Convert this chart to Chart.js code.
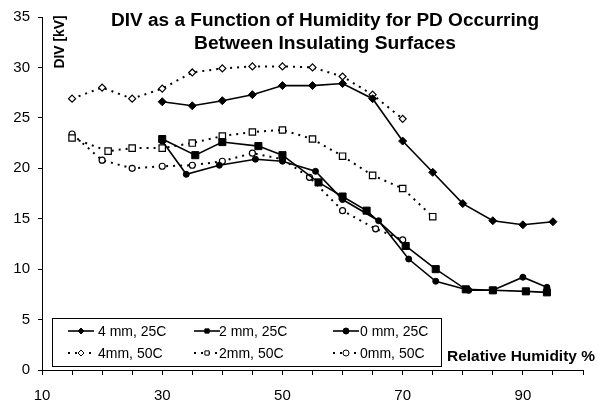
<!DOCTYPE html>
<html>
<head>
<meta charset="utf-8">
<script src="https://cdn.jsdelivr.net/npm/chart.js@4.4.1/dist/chart.umd.min.js"></script>
<style>
  html, body { margin: 0; padding: 0; background: #fff; }
  #wrap { width: 607px; height: 407px; }
</style>
</head>
<body>
<div id="wrap"><canvas id="divChart" width="607" height="407"></canvas></div>
<script>
const titleLines = ["DIV as a Function of Humidity for PD Occurring", "Between Insulating Surfaces"];
const yTitle = "DIV [kV]";
const xTitle = "Relative Humidity %";
const seriesLabels = ["4 mm, 25C", "2 mm, 25C", "0 mm, 25C", "4mm, 50C", "2mm, 50C", "0mm, 50C"];

// x tick labels shown every 20 (ticks every 5)
const xLabelTicks = [10, 30, 50, 70, 90];

const rh4mm25 = [30, 35, 40, 45, 50, 55, 60, 65, 70, 75, 80, 85, 90, 95];
const div4mm25 = [26.6, 26.2, 26.7, 27.3, 28.2, 28.2, 28.4, 26.9, 22.7, 19.6, 16.5, 14.8, 14.4, 14.7];

const rh2mm25 = [30, 35.5, 40, 46, 50, 56, 60, 64, 70.5, 75.5, 80.5, 85, 90.5, 94];
const div2mm25 = [22.9, 21.3, 22.6, 22.2, 21.3, 18.6, 17.2, 15.8, 12.3, 10.0, 8.0, 7.9, 7.8, 7.7];

const rh0mm25 = [30, 34, 39.5, 45.5, 50, 55.5, 60, 66, 71, 75.5, 81, 85, 90, 94];
const div0mm25 = [22.7, 19.4, 20.3, 20.9, 20.7, 19.7, 16.9, 14.8, 11.0, 8.8, 7.9, 7.9, 9.2, 8.2];

const rh4mm50 = [15, 20, 25, 30, 35, 40, 45, 50, 55, 60, 65, 70];
const div4mm50 = [26.9, 28.0, 26.9, 27.9, 29.5, 29.9, 30.1, 30.1, 30.0, 29.1, 27.3, 24.9];

const rh2mm50 = [15, 21, 25, 30, 35, 40, 45, 50, 55, 60, 65, 70, 75];
const div2mm50 = [23.0, 21.7, 22.0, 22.0, 22.5, 23.2, 23.6, 23.8, 22.9, 21.2, 19.3, 18.0, 15.2];

const rh0mm50 = [15, 20, 25, 30, 35, 40, 45, 50, 54.5, 60, 65.5, 70];
const div0mm50 = [23.4, 20.8, 20.0, 20.2, 20.3, 20.7, 21.5, 20.9, 19.1, 15.8, 14.0, 12.9];

const FONT = "'Liberation Sans', Arial, sans-serif";

function createDataset(label, xs, ys, options) {
  return {
    label: label,
    data: xs.map((x, i) => ({ x: x, y: ys[i] })),
    showLine: true,
    borderColor: "#000",
    pointBorderColor: "#000",
    ...options,
  };
}

const solid = { borderWidth: 1.6, pointBackgroundColor: "#000", pointBorderWidth: 1 };
const dotted = { borderWidth: 2, borderDash: [2, 5], pointBackgroundColor: "#fff", pointBorderWidth: 1.2 };

const datasets = [
  createDataset(seriesLabels[0], rh4mm25, div4mm25, { ...solid, pointStyle: "rectRot", pointRadius: 4 }),
  createDataset(seriesLabels[1], rh2mm25, div2mm25, { ...solid, pointStyle: "rect", pointRadius: 5 }),
  createDataset(seriesLabels[2], rh0mm25, div0mm25, { ...solid, pointStyle: "circle", pointRadius: 3 }),
  createDataset(seriesLabels[3], rh4mm50, div4mm50, { ...dotted, pointStyle: "rectRot", pointRadius: 3.5 }),
  createDataset(seriesLabels[4], rh2mm50, div2mm50, { ...dotted, pointStyle: "rect", pointRadius: 4.5 }),
  createDataset(seriesLabels[5], rh0mm50, div0mm50, { ...dotted, pointStyle: "circle", pointRadius: 3 }),
];

// draws text with a horizontal stretch so it covers the same width as the scan
function stretchText(ctx, text, x, y, font, width, rotate) {
  ctx.save();
  ctx.font = font;
  ctx.translate(x, y);
  if (rotate) ctx.rotate(-Math.PI / 2);
  let sx = width / ctx.measureText(text).width;
  ctx.scale(sx, 1);
  ctx.textAlign = "center";
  ctx.textBaseline = "middle";
  ctx.fillStyle = "#000";
  ctx.fillText(text, 0, 0);
  ctx.restore();
}

const overlayText = {
  id: "overlayText",
  afterDraw: (chart) => {
    let ctx = chart.ctx;
    stretchText(ctx, titleLines[0], 325, 21, "bold 18px " + FONT, 428);
    stretchText(ctx, titleLines[1], 325, 44, "bold 18px " + FONT, 262);
    stretchText(ctx, yTitle, 60, 42, "bold 14px " + FONT, 53, true);
    stretchText(ctx, xTitle, 521, 357, "bold 15px " + FONT, 148);
  },
};

const boxLegend = {
  id: "boxLegend",
  afterDraw: (chart) => {
    let ctx = chart.ctx;
    let lineX = [68, 194, 333];
    let textX = [98, 219, 360];
    let rowY = [331, 353];
    ctx.save();
    ctx.fillStyle = "#fff";
    ctx.fillRect(52, 318, 389, 48);
    ctx.strokeStyle = "#000";
    ctx.lineWidth = 1;
    ctx.strokeRect(52.5, 318.5, 389, 48);
    chart.data.datasets.forEach((ds, i) => {
      let col = i % 3;
      let y = rowY[Math.floor(i / 3)];
      let x0 = lineX[col];
      ctx.save();
      ctx.strokeStyle = "#000";
      ctx.lineWidth = ds.borderWidth;
      ctx.setLineDash(ds.borderDash || []);
      ctx.beginPath();
      ctx.moveTo(x0, y);
      ctx.lineTo(x0 + 26, y);
      ctx.stroke();
      ctx.setLineDash([]);
      ctx.fillStyle = ds.pointBackgroundColor;
      ctx.strokeStyle = "#000";
      ctx.lineWidth = 1;
      Chart.helpers.drawPoint(ctx, { pointStyle: ds.pointStyle, radius: 3, borderWidth: 1, rotation: 0 }, x0 + 13, y);
      ctx.restore();
      ctx.fillStyle = "#000";
      ctx.font = "14px " + FONT;
      ctx.textBaseline = "middle";
      ctx.textAlign = "left";
      ctx.fillText(ds.label, textX[col], y + 1);
    });
    ctx.restore();
  },
};

let canvas = document.getElementById("divChart");
new Chart(canvas, {
  type: "scatter",
  data: { datasets: datasets },
  options: {
    responsive: false,
    animation: false,
    devicePixelRatio: 1,
    layout: { padding: { top: 15, right: 24, left: 0, bottom: 0 } },
    scales: {
      x: {
        type: "linear",
        min: 10,
        max: 100,
        afterFit: (scale) => { scale.height = 37; },
        border: { color: "#000", width: 1 },
        grid: { drawOnChartArea: false, drawTicks: true, tickLength: 5, color: "#000" },
        ticks: {
          stepSize: 5,
          autoSkip: false,
          maxRotation: 0,
          padding: 12,
          color: "#000",
          font: { family: FONT, size: 15 },
          callback: (value) => (xLabelTicks.includes(value) ? String(value) : ""),
        },
      },
      y: {
        min: 0,
        max: 35,
        afterFit: (scale) => { scale.width = 42; },
        border: { color: "#000", width: 1 },
        grid: { drawOnChartArea: false, drawTicks: true, tickLength: 4, color: "#000" },
        ticks: {
          stepSize: 5,
          padding: 8,
          color: "#000",
          font: { family: FONT, size: 15 },
        },
      },
    },
    plugins: {
      legend: { display: false },
      title: { display: false },
      tooltip: { enabled: false },
    },
  },
  plugins: [overlayText, boxLegend],
});
</script>
</body>
</html>
